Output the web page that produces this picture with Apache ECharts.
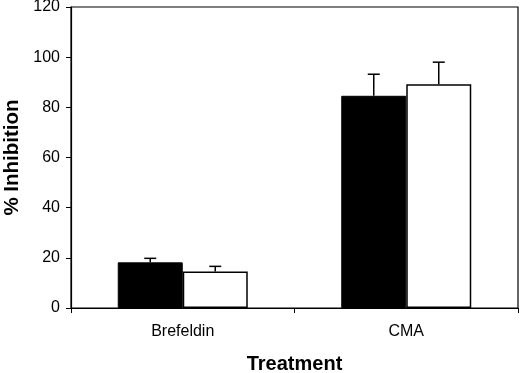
<!DOCTYPE html>
<html>
<head>
<meta charset="utf-8">
<script src="https://cdn.jsdelivr.net/npm/echarts@6/dist/echarts.min.js"></script>
<style>
  html, body { margin: 0; padding: 0; background: #fff; }
  #chart { width: 520px; height: 373px; }
</style>
</head>
<body>
<div id="chart"></div>
<script>
var categories = ['Brefeldin', 'CMA'];
var filledVals = [18.2, 84.6];
var filledErr = [1.6, 8.6];
var openVals = [14.6, 89.2];
var openErr = [2.0, 8.8];
var yTicks = [0, 20, 40, 60, 80, 100, 120];

var BAR_W = 65;

function errData(vals, errs) {
  return vals.map(function (v, i) { return [i, v, v + errs[i]]; });
}

function errSeries(vals, errs, offset) {
  return {
    type: 'custom',
    z: 5,
    data: errData(vals, errs),
    renderItem: function (params, api) {
      var lo = api.coord([api.value(0), api.value(1)]);
      var hi = api.coord([api.value(0), api.value(2)]);
      var x = lo[0] + offset;
      var style = { stroke: '#000', lineWidth: 1.5 };
      return {
        type: 'group',
        children: [
          { type: 'line', shape: { x1: x, y1: lo[1], x2: x, y2: hi[1] }, style: style },
          { type: 'line', shape: { x1: x - 6, y1: hi[1], x2: x + 6, y2: hi[1] }, style: style }
        ]
      };
    }
  };
}

var option = {
  animation: false,
  textStyle: { fontFamily: 'Liberation Sans, Arial, sans-serif', color: '#000' },
  grid: {
    left: 71, right: 2, top: 7, bottom: 65,
    outerBoundsMode: 'none',
    containLabel: false,
    show: true, borderColor: '#000', borderWidth: 1.2, backgroundColor: '#fff'
  },
  xAxis: {
    type: 'category',
    data: categories,
    name: 'Treatment',
    nameLocation: 'middle',
    nameGap: 46,
    nameTextStyle: { fontSize: 20, fontWeight: 'bold', color: '#000' },
    axisLine: { lineStyle: { color: '#000', width: 1.2 } },
    axisTick: { show: true, length: 5, lineStyle: { color: '#000' } },
    axisLabel: { fontSize: 16, color: '#000', margin: 16 }
  },
  yAxis: {
    type: 'value',
    min: yTicks[0],
    max: yTicks[yTicks.length - 1],
    interval: 20,
    name: '% Inhibition',
    nameLocation: 'middle',
    nameGap: 39,
    nameTextStyle: { fontSize: 20.5, fontWeight: 'bold', color: '#000' },
    axisLine: { show: true, lineStyle: { color: '#000', width: 1.2 } },
    axisTick: { show: true, length: 5, lineStyle: { color: '#000' } },
    axisLabel: { fontSize: 16, color: '#000', margin: 11 },
    splitLine: { show: false }
  },
  series: [
    {
      type: 'bar',
      data: filledVals,
      barWidth: BAR_W,
      barGap: '0%',
      itemStyle: { color: '#000', borderColor: '#000', borderWidth: 1 }
    },
    {
      type: 'bar',
      data: openVals,
      barWidth: BAR_W,
      itemStyle: { color: '#fff', borderColor: '#000', borderWidth: 1.5 }
    },
    errSeries(filledVals, filledErr, -BAR_W / 2),
    errSeries(openVals, openErr, BAR_W / 2)
  ]
};

var myChart = echarts.init(document.getElementById('chart'));
myChart.setOption(option, true);
</script>
</body>
</html>
